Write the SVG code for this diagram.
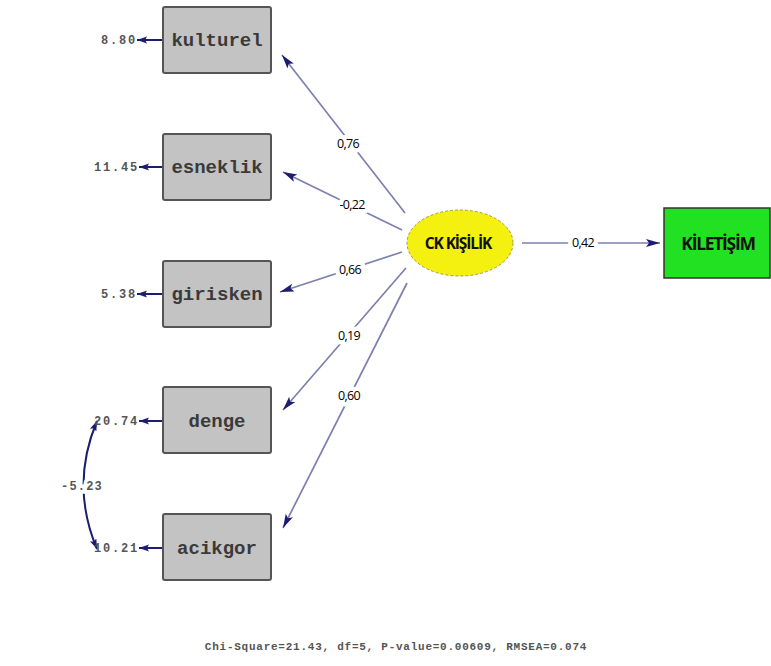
<svg xmlns="http://www.w3.org/2000/svg" width="771" height="666" viewBox="0 0 771 666">
<style>
.box{fill:#c3c3c3;stroke:#555;stroke-width:2}
.lbl{font-family:"Liberation Mono",monospace;font-size:19px;font-weight:bold;fill:#3a3a3a;text-anchor:middle}
.val{font-family:"Liberation Mono",monospace;font-size:12px;font-weight:bold;fill:#555;letter-spacing:1.8px;text-anchor:end}
.coef{font-family:"Open Sans","Liberation Sans",sans-serif;font-size:12.5px;fill:#000;letter-spacing:-0.7px;text-anchor:middle;paint-order:stroke;stroke:#fff;stroke-width:9px;stroke-linejoin:round}
.path{stroke:#7d80b0;stroke-width:1.7;fill:none}
.err{stroke:#1c1c72;stroke-width:2;fill:none}
</style>
<defs>
<marker id="ah" markerUnits="userSpaceOnUse" markerWidth="16" markerHeight="10" refX="14" refY="4" orient="auto">
<path d="M0,0 L14,4 L0,8 L3,4 z" fill="#1c1c72"/>
</marker>
<marker id="ahs" markerUnits="userSpaceOnUse" markerWidth="12" markerHeight="8" refX="10" refY="3.5" orient="auto">
<path d="M0,0 L10,3.5 L0,7 L2,3.5 z" fill="#1c1c72"/>
</marker>
<marker id="ahr" markerUnits="userSpaceOnUse" markerWidth="12" markerHeight="8" refX="0" refY="3.5" orient="auto">
<path d="M10,0 L0,3.5 L10,7 L8,3.5 z" fill="#1c1c72"/>
</marker>
</defs>
<rect width="771" height="666" fill="#fff"/>
<g id="connectors">
<line class="path" x1="405" y1="213" x2="282" y2="55" marker-end="url(#ah)"/>
<line class="path" x1="402" y1="230" x2="283" y2="172" marker-end="url(#ah)"/>
<line class="path" x1="402" y1="252" x2="280" y2="292" marker-end="url(#ah)"/>
<line class="path" x1="406" y1="268" x2="283" y2="410" marker-end="url(#ah)"/>
<line class="path" x1="407" y1="283" x2="283" y2="528" marker-end="url(#ah)"/>
<line class="path" x1="522" y1="243" x2="660" y2="243" marker-end="url(#ah)"/>
<line class="err" x1="163" y1="40" x2="137" y2="40" marker-end="url(#ahs)"/>
<line class="err" x1="163" y1="167" x2="139" y2="167" marker-end="url(#ahs)"/>
<line class="err" x1="163" y1="294" x2="137" y2="294" marker-end="url(#ahs)"/>
<line class="err" x1="163" y1="421" x2="139" y2="421" marker-end="url(#ahs)"/>
<line class="err" x1="163" y1="548" x2="139" y2="548" marker-end="url(#ahs)"/>
<path class="err" d="M97,421 Q70,485 97,549" stroke-width="1.8" marker-start="url(#ahr)" marker-end="url(#ahs)"/>
<text class="coef" x="348" y="148">0,76</text>
<text class="coef" x="352" y="209">-0,22</text>
<text class="coef" x="350" y="274">0,66</text>
<text class="coef" x="349" y="340">0,19</text>
<text class="coef" x="349" y="400">0,60</text>
<text class="coef" x="583" y="247">0,42</text>
<text x="82" y="490" font-family="Liberation Mono,monospace" font-size="12" font-weight="bold" fill="#555" letter-spacing="1.2" text-anchor="middle" paint-order="stroke" stroke="#fff" stroke-width="7">-5.23</text>
</g>
<g id="kulturel">
<rect class="box" x="163" y="7" width="108" height="66" rx="2"/>
<text class="lbl" x="217" y="46">kulturel</text>
<text class="val" x="137" y="44">8.80</text>
</g>
<g id="esneklik">
<rect class="box" x="163" y="134" width="108" height="66" rx="2"/>
<text class="lbl" x="217" y="173">esneklik</text>
<text class="val" x="139" y="171">11.45</text>
</g>
<g id="girisken">
<rect class="box" x="163" y="261" width="108" height="66" rx="2"/>
<text class="lbl" x="217" y="300">girisken</text>
<text class="val" x="137" y="298">5.38</text>
</g>
<g id="denge">
<rect class="box" x="163" y="387" width="108" height="66" rx="2"/>
<text class="lbl" x="217" y="427">denge</text>
<text class="val" x="139" y="425">20.74</text>
</g>
<g id="acikgor">
<rect class="box" x="163" y="514" width="108" height="66" rx="2"/>
<text class="lbl" x="217" y="554">acikgor</text>
<text class="val" x="139" y="552">10.21</text>
</g>
<g id="ck_kisilik">
<ellipse cx="460" cy="243" rx="53" ry="33" fill="#f4f010" stroke="#a89a3a" stroke-width="1" stroke-dasharray="3,2"/>
<text x="458" y="248.5" font-family="Open Sans,Liberation Sans,sans-serif" font-size="15.5" font-weight="bold" letter-spacing="-1.1" fill="#111" text-anchor="middle">CK KİŞİLİK</text>
</g>
<g id="kiletisim">
<rect x="664" y="208" width="106" height="70" fill="#22e022" stroke="#333" stroke-width="1.5"/>
<text x="718" y="249.5" font-family="Open Sans,Liberation Sans,sans-serif" font-size="17.5" font-weight="bold" letter-spacing="-1.3" fill="#111" text-anchor="middle">KİLETİŞİM</text>
</g>
<text x="396" y="650" font-family="Liberation Mono,monospace" font-size="11" font-weight="bold" fill="#555" letter-spacing="0.75" text-anchor="middle">Chi-Square=21.43, df=5, P-value=0.00609, RMSEA=0.074</text>
</svg>
